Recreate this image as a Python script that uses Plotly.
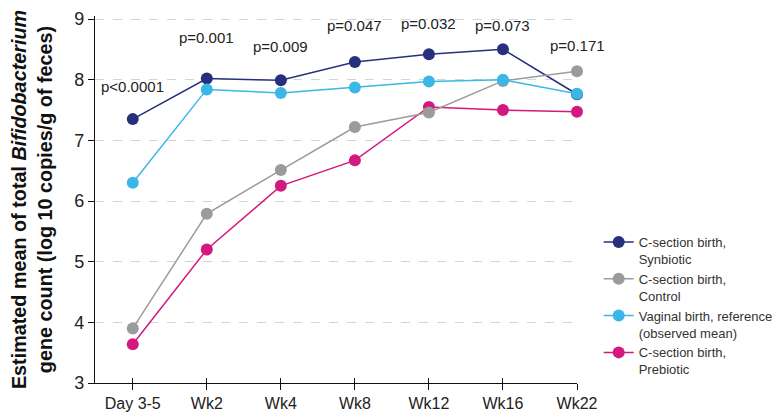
import plotly.graph_objects as go

categories = ["Day 3-5", "Wk2", "Wk4", "Wk8", "Wk12", "Wk16", "Wk22"]
synbiotic = [7.35, 8.02, 7.99, 8.29, 8.42, 8.50, 7.76]
control = [3.90, 5.79, 6.51, 7.22, 7.46, 7.98, 8.14]
vaginal = [6.30, 7.84, 7.78, 7.87, 7.97, 8.00, 7.77]
prebiotic = [3.64, 5.20, 6.25, 6.67, 7.55, 7.50, 7.47]
p_labels = ["p<0.0001", "p=0.001", "p=0.009", "p=0.047", "p=0.032", "p=0.073", "p=0.171"]
p_y = [7.88, 8.70, 8.55, 8.90, 8.93, 8.90, 8.57]

font_family = "Liberation Sans, Arial, Helvetica, sans-serif"

fig = go.Figure()

series = [
    ("C-section birth,<br>Synbiotic", synbiotic, "#282f7d", 1),
    ("C-section birth,<br>Prebiotic", prebiotic, "#d3197f", 4),
    ("C-section birth,<br>Control", control, "#9b9b9b", 2),
    ("Vaginal birth, reference<br>(observed mean)", vaginal, "#3bb7e6", 3),
]
for name, vals, color, rank in series:
    fig.add_trace(go.Scatter(
        x=categories, y=vals, name=name, mode="lines+markers",
        line=dict(color=color, width=1.5),
        marker=dict(color=color, size=12),
        legendrank=rank, cliponaxis=False,
    ))

# empty helper trace so the overlaid tick axis (inner half of crossing ticks) is drawn
fig.add_trace(go.Scatter(x=categories, y=[None] * len(categories), xaxis="x2",
                         showlegend=False, hoverinfo="skip", mode="lines"))

for cat, lab, yy in zip(categories, p_labels, p_y):
    fig.add_annotation(x=cat, y=yy, text=lab, showarrow=False,
                       font=dict(size=15, color="#222222", family=font_family))

# page body has an 8px margin, so the figure is sized to fit the 780x416 window
fig.update_layout(
    width=772, height=408,
    margin=dict(l=87, r=203, t=8, b=33, autoexpand=False),
    plot_bgcolor="white", paper_bgcolor="white",
    font=dict(family=font_family, color="#222222"),
    showlegend=True,
    legend=dict(x=1.045, y=0.425, xanchor="left", yanchor="top",
                font=dict(size=13, color="#333333"),
                valign="top", tracegroupgap=3, itemwidth=30,
                bgcolor="rgba(0,0,0,0)"),
    xaxis=dict(
        type="category", range=[-0.51, 6], showgrid=False, automargin=False,
        showline=True, linecolor="#111111", linewidth=1.2,
        ticks="outside", ticklen=6, tickcolor="#111111",
        tickfont=dict(size=16, color="#222222"),
    ),
    xaxis2=dict(
        type="category", range=[-0.51, 6], overlaying="x",
        anchor="y", side="bottom", showgrid=False, showline=False,
        ticks="inside", ticklen=5, tickcolor="#111111",
        showticklabels=False, automargin=False,
    ),
    yaxis=dict(
        range=[3, 9.05], tickvals=[3, 4, 5, 6, 7, 8, 9], automargin=False,
        showline=True, linecolor="#111111", linewidth=1.2,
        ticks="outside", ticklen=6, tickcolor="#111111",
        tickfont=dict(size=18, color="#222222"),
        showgrid=True, gridcolor="#d4d4d4", griddash="dash", gridwidth=1,
        zeroline=False,
        title=dict(
            text="<b>Estimated mean of total <i>Bifidobacterium</i><br>gene count (log 10 copies/g of feces)</b>",
            font=dict(size=19.8, color="#111111"), standoff=16,
        ),
    ),
)

fig.write_html("out.html")
